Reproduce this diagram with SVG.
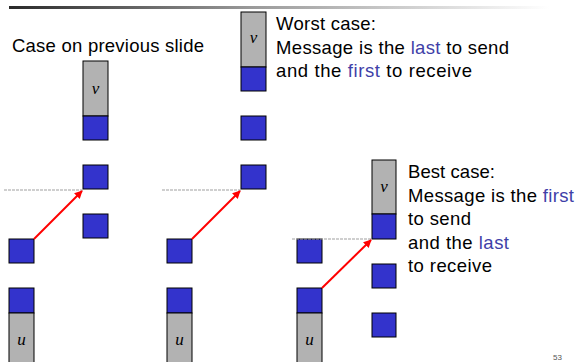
<svg xmlns="http://www.w3.org/2000/svg" width="579" height="362" viewBox="0 0 579 362">
  <defs>
    <linearGradient id="rule" x1="0" y1="0" x2="1" y2="0">
      <stop offset="0" stop-color="#2a2a2a"/>
      <stop offset="0.45" stop-color="#9a9a9a"/>
      <stop offset="1" stop-color="#ffffff"/>
    </linearGradient>
    <marker id="head" viewBox="0 0 10 10" refX="9" refY="5" markerWidth="4" markerHeight="4" orient="auto" markerUnits="strokeWidth">
      <path d="M0,0 L10,5 L0,10 z" fill="#ff0000"/>
    </marker>
    <style>
      .slot { fill: #3333cc; stroke: #000; stroke-width: 1; }
      .grey { fill: #b2b2b2; stroke: #000; stroke-width: 1; }
      .lbl { font-family: "Liberation Serif", serif; font-style: italic; font-size: 17px; fill: #000; text-anchor: middle; }
      .txt { font-family: "Liberation Sans", Arial, sans-serif; font-size: 18.5px; fill: #000; }
      .hl { fill: #3f3fa8; }
      .guide { stroke: #a0a0a0; stroke-width: 1.2; stroke-dasharray: 3 1; fill: none; }
      .msg { stroke: #ff0000; stroke-width: 2; fill: none; marker-end: url(#head); }
    </style>
  </defs>

  <rect x="9" y="6" width="540" height="3" fill="url(#rule)"/>

  <!-- column 1: case on previous slide -->
  <g id="caption-prev">
    <text class="txt" x="12" y="52" textLength="192">Case on previous slide</text>
  </g>
  <g id="v1">
    <rect class="grey" x="83" y="61" width="25" height="55"/>
    <rect class="slot" x="83" y="116" width="25" height="24"/>
    <text class="lbl" x="95.5" y="94">v</text>
  </g>
  <g id="v1-slots">
    <rect class="slot" x="83" y="165" width="25" height="24"/>
    <rect class="slot" x="83" y="214" width="25" height="24"/>
  </g>
  <g id="u1-slots">
    <rect class="slot" x="9" y="239" width="25" height="24"/>
  </g>
  <g id="u1">
    <rect class="slot" x="9" y="288" width="25" height="25"/>
    <rect class="grey" x="9" y="313" width="25" height="55"/>
    <text class="lbl" x="21.5" y="345">u</text>
  </g>

  <!-- column 2: worst case -->
  <g id="v2">
    <rect class="grey" x="241" y="12" width="25" height="55"/>
    <rect class="slot" x="241" y="67" width="25" height="24"/>
    <text class="lbl" x="253.5" y="43">v</text>
  </g>
  <g id="v2-slots">
    <rect class="slot" x="241" y="116" width="25" height="24"/>
    <rect class="slot" x="241" y="165" width="25" height="24"/>
  </g>
  <g id="u2-slots">
    <rect class="slot" x="167" y="239" width="25" height="24"/>
  </g>
  <g id="u2">
    <rect class="slot" x="167" y="288" width="25" height="25"/>
    <rect class="grey" x="167" y="313" width="25" height="55"/>
    <text class="lbl" x="179.5" y="345">u</text>
  </g>
  <g id="caption-worst">
    <text class="txt" x="276" y="30" textLength="100">Worst case:</text>
    <text class="txt" x="276" y="53.5" textLength="233">Message is the <tspan class="hl">last</tspan> to send</text>
    <text class="txt" x="276" y="77" textLength="196">and the <tspan class="hl">first</tspan> to receive</text>
  </g>

  <!-- column 3: best case -->
  <g id="v3">
    <rect class="grey" x="372" y="160" width="24" height="54"/>
    <rect class="slot" x="372" y="214" width="24" height="25"/>
    <text class="lbl" x="384" y="192">v</text>
  </g>
  <g id="v3-slots">
    <rect class="slot" x="372" y="264" width="24" height="24"/>
    <rect class="slot" x="372" y="313" width="24" height="24"/>
  </g>
  <g id="u3-slots">
    <rect class="slot" x="297" y="239" width="25" height="24"/>
  </g>
  <g id="u3">
    <rect class="slot" x="297" y="288" width="25" height="25"/>
    <rect class="grey" x="297" y="313" width="25" height="55"/>
    <text class="lbl" x="309.5" y="345">u</text>
  </g>
  <g id="caption-best">
    <text class="txt" x="408" y="178" textLength="87">Best case:</text>
    <text class="txt" x="408" y="202" textLength="166">Message is the <tspan class="hl">first</tspan></text>
    <text class="txt" x="408" y="225" textLength="63">to send</text>
    <text class="txt" x="408" y="249" textLength="101">and the <tspan class="hl">last</tspan></text>
    <text class="txt" x="408" y="272" textLength="84">to receive</text>
  </g>

  <!-- receive-time guides and message arrows -->
  <g id="connectors">
    <line class="guide" x1="4" y1="190" x2="83" y2="190"/>
    <line class="guide" x1="162" y1="190" x2="241" y2="190"/>
    <line class="guide" x1="292" y1="239" x2="372" y2="239"/>
    <line class="msg" x1="34" y1="239" x2="82" y2="191"/>
    <line class="msg" x1="192" y1="239" x2="240" y2="191"/>
    <line class="msg" x1="322" y1="288" x2="371" y2="240"/>
  </g>

  <text x="553" y="360" font-family="Liberation Sans, Arial, sans-serif" font-size="8" fill="#555">53</text>
</svg>
